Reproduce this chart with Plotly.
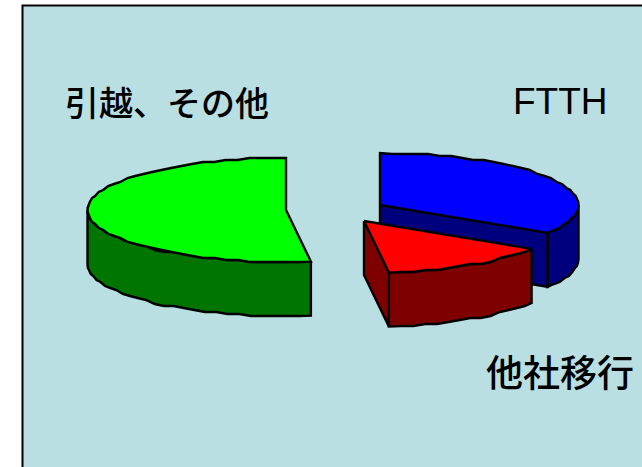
import math
import plotly.graph_objects as go

labels = ["FTTH", "他社移行", "引越、その他"]
values = [34, 14, 52]
top_colors = ["#0000FF", "#FF0000", "#00FF00"]
side_colors = ["#00007F", "#7F0000", "#007500"]

W, H = 642, 467
RX, RY, DEPTH = 198.5, 52, 54
centers = {"FTTH": (380, 205), "他社移行": (364, 221), "引越、その他": (286, 210)}

cum = [0]
for v in values:
    cum.append(cum[-1] + v)
total = cum[-1]
spans = {l: (cum[i] / total * 360, cum[i + 1] / total * 360) for i, l in enumerate(labels)}


def pt(c, deg, dz=0):
    t = math.radians(deg)
    return c[0] + RX * math.sin(t), c[1] - RY * math.cos(t) + dz


def arc(c, a, b, dz=0, step=3.5):
    # short segments with y snapped to a grid, as in the stepped outline of the original
    n = max(2, round(abs(b - a) / step))
    out = []
    for i in range(n + 1):
        x, y = pt(c, a + (b - a) * i / n, dz)
        if 0 < i < n:
            y = round(y / 2) * 2
        out.append((x, y))
    return out


fig = go.Figure()


def poly(points, color):
    xs = [p[0] for p in points] + [points[0][0]]
    ys = [p[1] for p in points] + [points[0][1]]
    fig.add_trace(go.Scatter(x=xs, y=ys, mode="lines", fill="toself", fillcolor=color,
                             line=dict(color="black", width=2.4, simplify=False), hoverinfo="skip",
                             showlegend=False))


def extrude(top):
    return top + [(x, y + DEPTH) for x, y in reversed(top)]


def draw(label):
    i = labels.index(label)
    c = centers[label]
    a, b = spans[label]
    side, tc = side_colors[i], top_colors[i]
    if label == "FTTH":
        poly(extrude(arc(c, 90, b)), side)
        poly(extrude([c, pt(c, b)]), side)
    elif label == "他社移行":
        poly(extrude([c, pt(c, b)]), side)
        poly(extrude(arc(c, a, b)), side)
    else:
        poly(extrude(arc(c, a, 270)), side)
    poly([c] + arc(c, a, b), tc)


for name in ["引越、その他", "FTTH", "他社移行"]:
    draw(name)

fig.add_annotation(x=167, y=101, text="引越、その他", showarrow=False, xanchor="center", yanchor="middle",
                   font=dict(family="Noto Sans CJK JP", size=34, color="black", weight=500))
fig.add_annotation(x=560, y=101, text="FTTH", showarrow=False, xanchor="center", yanchor="middle",
                   font=dict(family="Liberation Sans", size=37, color="black"))
fig.add_annotation(x=560, y=371, text="他社移行", showarrow=False, xanchor="center", yanchor="middle",
                   font=dict(family="Noto Sans CJK JP", size=37, color="black", weight=500))

fig.update_layout(
    width=W, height=H, margin=dict(l=0, r=0, t=0, b=0), paper_bgcolor="white", plot_bgcolor="white",
    showlegend=False,
    xaxis=dict(range=[0, W], visible=False, fixedrange=True),
    yaxis=dict(range=[H, 0], visible=False, fixedrange=True),
    shapes=[dict(type="rect", layer="below", x0=22.5, y0=5.5, x1=W + 5, y1=H + 5,
                 fillcolor="#B9DFE3", line=dict(color="black", width=2))],
)
fig.write_html("out.html", config={"displayModeBar": False},
               post_script="document.body.style.margin='0';document.body.style.overflow='hidden';")
